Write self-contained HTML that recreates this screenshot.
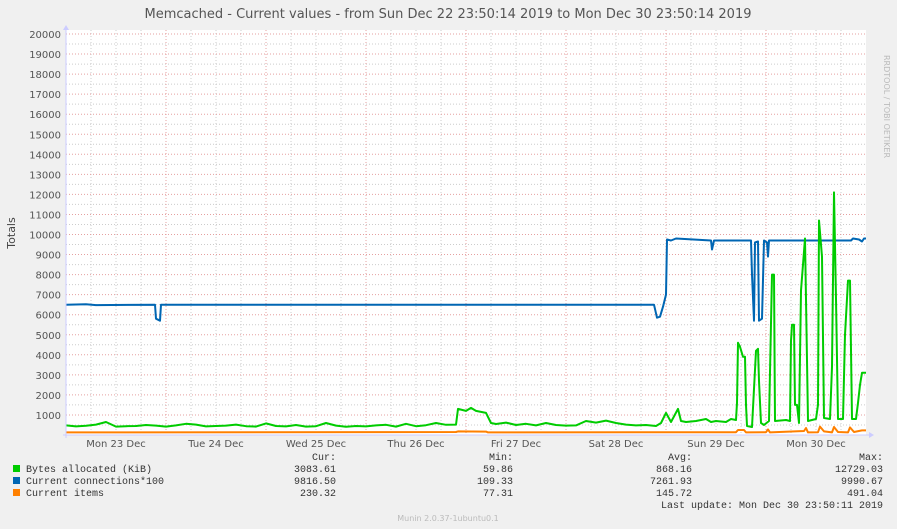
<!DOCTYPE html>
<html><head><meta charset="utf-8"><style>
body{margin:0;background:#f0f0f0;width:897px;height:529px;overflow:hidden;font-family:"DejaVu Sans","Liberation Sans",sans-serif}
svg{display:block}
</style></head><body>
<svg id="c" width="897" height="529" xmlns="http://www.w3.org/2000/svg">
<rect x="66" y="30" width="800" height="405" fill="#ffffff"/>
<text x="448" y="18" text-anchor="middle" font-size="13" fill="#555">Memcached - Current values - from Sun Dec 22 23:50:14 2019 to Mon Dec 30 23:50:14 2019</text>
<text transform="translate(15,233) rotate(-90)" text-anchor="middle" font-size="11" fill="#444">Totals</text>
<text transform="translate(884,55) rotate(90)" font-size="8" fill="#bbb">RRDTOOL / TOBI OETIKER</text>
<text x="448" y="521" text-anchor="middle" font-size="8" fill="#bbb">Munin 2.0.37-1ubuntu0.1</text>
<g id="grid"></g><g id="series"></g><g id="axes"></g>
<g font-family="'Liberation Mono',monospace" font-size="10" fill="#333">
<rect x="13" y="465" width="7" height="7" fill="#00cc00"/>
<rect x="13" y="477" width="7" height="7" fill="#0066b3"/>
<rect x="13" y="489" width="7" height="7" fill="#ff8000"/>
<text x="26" y="472">Bytes allocated (KiB)</text>
<text x="26" y="484">Current connections*100</text>
<text x="26" y="496">Current items</text>
<g text-anchor="end">
<text x="336" y="460">Cur:</text><text x="513" y="460">Min:</text><text x="692" y="460">Avg:</text><text x="883" y="460">Max:</text>
<text x="336" y="472">3083.61</text><text x="513" y="472">59.86</text><text x="692" y="472">868.16</text><text x="883" y="472">12729.03</text>
<text x="336" y="484">9816.50</text><text x="513" y="484">109.33</text><text x="692" y="484">7261.93</text><text x="883" y="484">9990.67</text>
<text x="336" y="496">230.32</text><text x="513" y="496">77.31</text><text x="692" y="496">145.72</text><text x="883" y="496">491.04</text>
<text x="883" y="508">Last update: Mon Dec 30 23:50:11 2019</text>
</g></g>
</svg>
<script>
const dayLabels=["Mon 23 Dec","Tue 24 Dec","Wed 25 Dec","Thu 26 Dec","Fri 27 Dec","Sat 28 Dec","Sun 29 Dec","Mon 30 Dec"];
const yTicks=[1000,2000,3000,4000,5000,6000,7000,8000,9000,10000,11000,12000,13000,14000,15000,16000,17000,18000,19000,20000];
const greenBase=[480,430,460,520,650,420,440,450,500,470,420,480,560,520,430,450,470,520,440,420,580,450,430,500,420,440,600,470,410,450,430,480,510,420,560,440,490,600,510];
const greenT2=[3.9,3.92,4.0,4.05,4.1,4.15,4.2,4.25,4.3,4.4,4.5,4.6,4.7,4.8,4.9,5.0,5.1,5.2,5.3,5.4,5.5,5.6,5.7,5.8,5.9,5.95,6.0,6.05,6.12,6.15,6.2,6.3,6.4,6.45,6.5,6.6,6.65,6.7,6.71,6.72,6.74,6.77,6.79,6.8,6.81,6.86,6.9,6.92,6.93,6.95,6.98,7.03,7.06,7.08,7.09,7.2,7.24,7.25,7.26,7.28,7.29,7.31,7.33,7.35,7.39,7.42,7.5,7.52,7.53,7.56,7.58,7.64,7.66,7.68,7.7,7.72,7.77,7.79,7.82,7.84,7.86,7.9,7.92,7.94,7.96,8.0];
const greenV2=[520,1300,1200,1350,1200,1150,1100,600,550,620,500,560,480,600,500,470,480,700,620,720,600,520,480,500,450,600,1100,650,1300,700,650,700,800,650,700,650,800,750,1600,4600,4400,3900,3900,1500,450,400,4200,4300,2700,600,500,700,8000,8000,700,750,700,4700,5500,5500,1500,1500,600,7200,9800,700,800,1500,10700,8900,850,800,3400,12100,6800,800,800,5000,7700,7700,800,800,1600,2500,3100,3100];
const blueT=[0,0.2,0.3,0.89,0.9,0.94,0.95,5.88,5.91,5.94,5.97,6.0,6.01,6.05,6.1,6.45,6.46,6.48,6.85,6.86,6.88,6.89,6.92,6.93,6.96,6.98,7.01,7.02,7.03,7.85,7.87,7.93,7.96,7.98,8.0];
const blueV=[6500,6520,6480,6500,5800,5700,6500,6500,5850,5900,6400,7000,9750,9700,9800,9700,9250,9700,9700,8000,5700,9600,9650,5700,5800,9700,9600,8900,9700,9700,9800,9750,9650,9800,9800];
const orangeT=[0,3.9,3.92,4.2,4.22,6.7,6.72,6.78,6.8,7.0,7.02,7.04,7.38,7.4,7.42,7.52,7.54,7.58,7.66,7.68,7.72,7.82,7.84,7.88,7.96,8.0];
const orangeV=[130,150,180,170,130,140,250,250,130,140,280,130,200,350,130,140,420,180,130,400,150,130,380,150,230,230];

const X0=66,X1=866,Y0=435,YMAX=20000,YTOP=34;
const xs=t=>X0+(X1-X0)*t/8;
const ys=v=>Y0-(Y0-YTOP)*v/YMAX;
const NS="http://www.w3.org/2000/svg";
function mk(tag,attrs,parent){const e=document.createElementNS(NS,tag);for(const k in attrs)e.setAttribute(k,attrs[k]);parent.appendChild(e);return e;}
const grid=document.getElementById('grid'),series=document.getElementById('series'),axes=document.getElementById('axes');
// minor horizontal
for(let v=500;v<=YMAX;v+=1000){const l=mk('line',{x1:X0,x2:X1,y1:ys(v),y2:ys(v),stroke:'#ccc','stroke-dasharray':'1,2','stroke-width':1},grid);

}
// minor vertical every 6h
for(let t=0.25;t<8;t+=0.25){const l=mk('line',{x1:xs(t),x2:xs(t),y1:YTOP-4,y2:Y0,stroke:'#ccc','stroke-dasharray':'1,2'},grid);

}
for(let d=1;d<8;d++){const l=mk('line',{x1:xs(d),x2:xs(d),y1:YTOP-4,y2:Y0,stroke:'#e5a0a0','stroke-dasharray':'1,2'},grid);

}
yTicks.forEach(v=>{const l=mk('line',{x1:X0,x2:X1,y1:ys(v),y2:ys(v),stroke:'#e5a0a0','stroke-dasharray':'1,2'},grid);


const t=mk('text',{x:61,y:ys(v)+4,'text-anchor':'end','font-size':10,fill:'#555'},axes);t.textContent=v;

});
dayLabels.forEach((s,i)=>{const t=mk('text',{x:xs(i+0.5),y:447,'text-anchor':'middle','font-size':10,fill:'#555'},axes);t.textContent=s;

});
function line(T,V,color,name){const pts=T.map((t,i)=>xs(t).toFixed(1)+','+ys(V[i]).toFixed(1)).join(' ');
const p=mk('polyline',{points:pts,fill:'none',stroke:color,'stroke-width':2,'stroke-linejoin':'round'},series);

}
const gT=greenBase.map((v,i)=>i*0.1).concat(greenT2),gV=greenBase.concat(greenV2);
line(orangeT,orangeV,'#ff8000','series-current-items');
line(blueT,blueV,'#0066b3','series-current-connections');
line(gT,gV,'#00cc00','series-bytes-allocated');
const ax=mk('line',{x1:X0-3,x2:X1+4,y1:Y0,y2:Y0,stroke:'#ccccff'},axes);


const ay=mk('line',{x1:X0,x2:X0,y1:Y0+3,y2:YTOP-5,stroke:'#ccccff'},axes);


const a1=mk('polygon',{points:`${X1+8},${Y0} ${X1+3},${Y0-3} ${X1+3},${Y0+3}`,fill:'#ccccff'},axes);


const a2=mk('polygon',{points:`${X0},${YTOP-9} ${X0-3},${YTOP-4} ${X0+3},${YTOP-4}`,fill:'#ccccff'},axes);


</script>
</body></html>
